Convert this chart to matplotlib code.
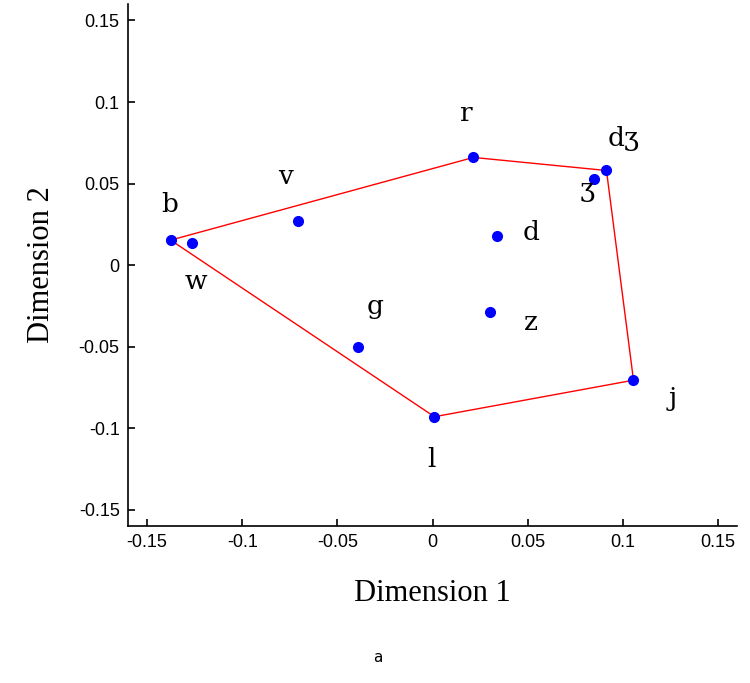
import matplotlib
matplotlib.use('Agg')
import matplotlib.pyplot as plt

# phoneme positions in the 2-D space
labels = ['b', 'w', 'v', 'r', 'dʒ', 'ʒ', 'd', 'z', 'g', 'l', 'j']
dim1 = [-0.1376, -0.1266, -0.0709, 0.0215, 0.0914, 0.0850, 0.0340, 0.0300, -0.0390, 0.0010, 0.1056]
dim2 = [0.0153, 0.0135, 0.0270, 0.0660, 0.0580, 0.0530, 0.0180, -0.0290, -0.0500, -0.0930, -0.0706]

# where each label sits relative to its point (offset in points)
label_offsets = {
    'b': (-1, 26), 'w': (3, -28), 'v': (-9, 32), 'r': (-5, 32), 'dʒ': (12, 23),
    'ʒ': (-5, -8), 'd': (24, 2), 'z': (30, -7), 'g': (12, 29), 'l': (-2, -31), 'j': (28, -13),
}

# outer hull, drawn in this order
hull = ['b', 'r', 'dʒ', 'j', 'l', 'b']

fig = plt.figure(figsize=(7.5, 6.83), dpi=100)
ax = fig.add_axes([0.1707, 0.2299, 0.812, 0.764])

hx = [dim1[labels.index(p)] for p in hull]
hy = [dim2[labels.index(p)] for p in hull]
ax.plot(hx, hy, color='red', linewidth=1.0, zorder=2)
ax.plot(dim1, dim2, 'o', color='blue', markersize=7, zorder=3)

for name, x, y in zip(labels, dim1, dim2):
    dx, dy = label_offsets[name]
    ax.annotate(name, (x, y), xytext=(dx, dy), textcoords='offset points',
                ha='center', va='center', fontsize=19, family='DejaVu Serif')

ax.set_xlim(-0.16, 0.16)
ax.set_ylim(-0.16, 0.16)
ticks = [-0.15, -0.1, -0.05, 0, 0.05, 0.1, 0.15]
tick_text = ['-0.15', '-0.1', '-0.05', '0', '0.05', '0.1', '0.15']
ax.set_xticks(ticks)
ax.set_xticklabels(tick_text)
ax.set_yticks(ticks)
ax.set_yticklabels(tick_text)
ax.tick_params(direction='in', length=5, width=1.2, labelsize=13, pad=6)
for lab in ax.get_xticklabels() + ax.get_yticklabels():
    lab.set_family('Liberation Sans')
ax.spines['top'].set_visible(False)
ax.spines['right'].set_visible(False)
ax.spines['left'].set_linewidth(1.2)
ax.spines['bottom'].set_linewidth(1.2)

ax.set_xlabel('Dimension 1', family='Liberation Serif', fontsize=22, labelpad=20)
ax.set_ylabel('Dimension 2', family='Liberation Serif', fontsize=22, labelpad=16)

fig.text(378 / 750, 1 - 658 / 683, 'a', ha='center', va='center', fontsize=11, family='DejaVu Sans')

fig.savefig('out.png', dpi=100)
